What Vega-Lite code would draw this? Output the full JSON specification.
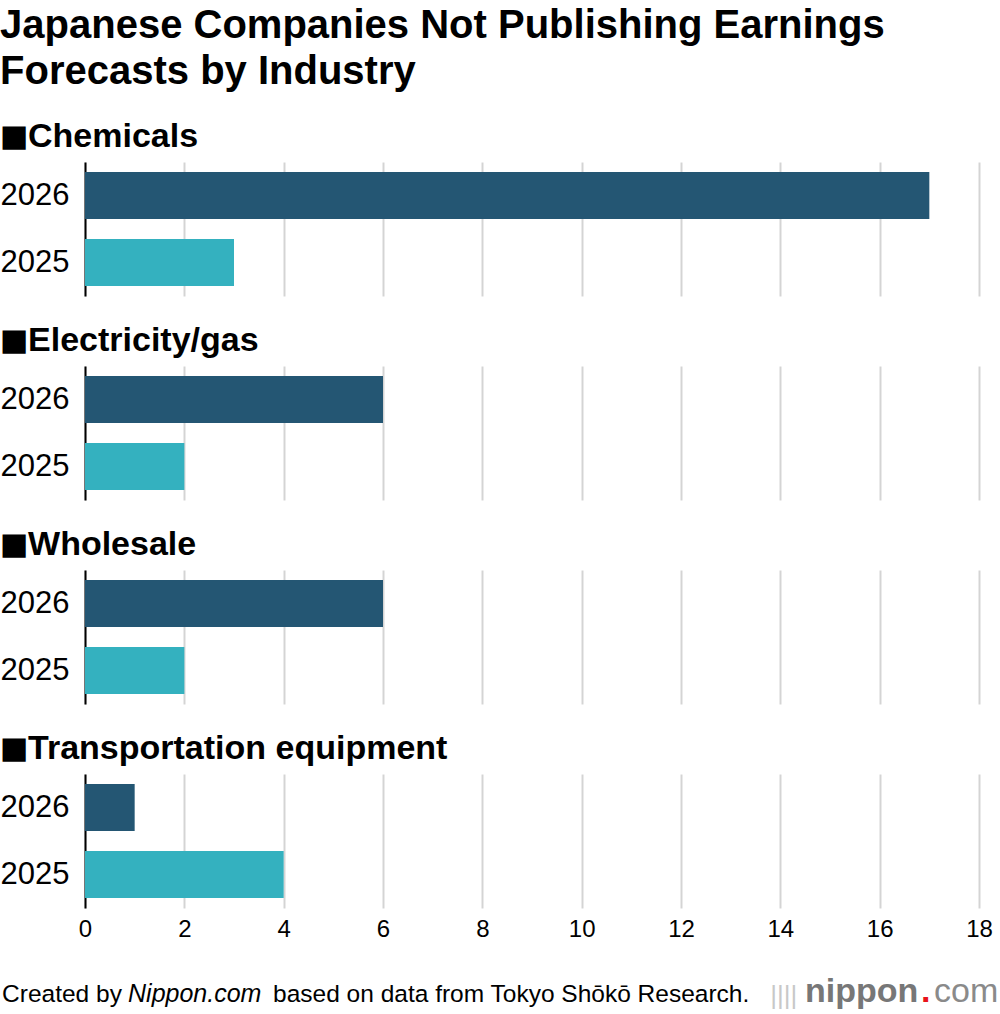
{
  "$schema": "https://vega.github.io/schema/vega-lite/v6.json",
  "background": "white",
  "padding": {"left": 0, "right": 0, "top": 6, "bottom": 0},
  "data": {
    "values": [
      {"industry": "Chemicals", "year": "2026", "companies": 17},
      {"industry": "Chemicals", "year": "2025", "companies": 3},
      {"industry": "Electricity/gas", "year": "2026", "companies": 6},
      {"industry": "Electricity/gas", "year": "2025", "companies": 2},
      {"industry": "Wholesale", "year": "2026", "companies": 6},
      {"industry": "Wholesale", "year": "2025", "companies": 2},
      {"industry": "Transportation equipment", "year": "2026", "companies": 1},
      {"industry": "Transportation equipment", "year": "2025", "companies": 4}
    ]
  },
  "config": {
    "font": "Liberation Sans",
    "view": {"stroke": null},
    "concat": {"spacing": 28},
    "title": {
      "font": "Liberation Sans",
      "fontSize": 34,
      "fontWeight": "bold",
      "color": "#000000",
      "anchor": "start",
      "frame": "bounds",
      "offset": 8
    },
    "axisY": {
      "title": null,
      "ticks": false,
      "domain": true,
      "domainColor": "#000000",
      "domainWidth": 2,
      "labelFont": "Liberation Sans",
      "labelFontSize": 31,
      "labelColor": "#000000",
      "labelPadding": 16,
      "grid": false
    },
    "axisX": {
      "title": null,
      "ticks": false,
      "domain": false,
      "grid": true,
      "gridColor": "#d4d4d4",
      "gridWidth": 2,
      "labelFlush": false,
      "labelFont": "Liberation Sans",
      "labelFontSize": 24,
      "labelColor": "#000000",
      "labelPadding": 9
    }
  },
  "title": {
    "text": "based on data from Tokyo Shōkō Research.",
    "orient": "bottom", "anchor": "start", "frame": "bounds", "baseline": "alphabetic",
    "fontSize": 24.5, "fontWeight": "normal", "color": "#000000",
    "offset": 0, "dy": -7, "dx": 273
  },
  "vconcat": [
    {
      "title": {
        "text": "Nippon.com",
        "orient": "bottom", "anchor": "start", "frame": "bounds", "baseline": "alphabetic",
        "fontSize": 25, "fontWeight": "normal", "fontStyle": "italic", "color": "#000000",
        "offset": 0, "dy": -7, "dx": 128
      },
      "vconcat": [
        {
          "title": {
            "text": "Created by",
            "orient": "bottom", "anchor": "start", "frame": "bounds", "baseline": "alphabetic",
            "fontSize": 24.5, "fontWeight": "normal", "color": "#000000",
            "offset": 0, "dy": -7, "dx": 2
          },
          "vconcat": [
            {
              "title": {
                "text": "com",
                "orient": "bottom", "anchor": "end", "frame": "bounds", "baseline": "alphabetic",
                "fontSize": 34, "fontWeight": "normal", "color": "#8a8a8a",
                "offset": 0, "dy": -7, "dx": 6
              },
              "vconcat": [
                {
                  "title": {
                    "text": "||||",
                    "orient": "bottom", "anchor": "end", "frame": "bounds", "baseline": "alphabetic",
                    "fontSize": 26, "fontWeight": "normal", "color": "#c8c8c8",
                    "offset": 0, "dy": -5, "dx": -195
                  },
                  "vconcat": [
                    {
                      "title": {
                        "text": ".",
                        "orient": "bottom", "anchor": "end", "frame": "bounds", "baseline": "alphabetic",
                        "fontSize": 34, "fontWeight": "bold", "color": "#e8131b",
                        "offset": 0, "dy": -7, "dx": -62
                      },
                      "vconcat": [
                        {
                          "title": {
                            "text": "nippon",
                            "orient": "bottom", "anchor": "end", "frame": "bounds", "baseline": "alphabetic",
                            "fontSize": 34, "fontWeight": "bold", "color": "#777777",
                            "offset": 61, "dx": -74
                          },
                          "vconcat": [
                            {
                              "title": {
                                "text": ["Japanese Companies Not Publishing Earnings", "Forecasts by Industry"],
                                "fontSize": 40,
                                "lineHeight": 46,
                                "offset": 28
                              },
                              "spacing": 28,
                              "vconcat": [
                                {
                                  "title": "◼Chemicals",
                                  "width": 894,
                                  "height": 134,
                                  "transform": [{"filter": "datum.industry === 'Chemicals'"}],
                                  "mark": "bar",
                                  "encoding": {
                                    "y": {"field": "year", "type": "nominal", "sort": ["2026", "2025"],
                                          "scale": {"paddingInner": 0.3, "paddingOuter": 0.15}},
                                    "x": {"field": "companies", "type": "quantitative",
                                          "scale": {"domain": [0, 18], "nice": false},
                                          "axis": {"labels": false, "values": [0, 2, 4, 6, 8, 10, 12, 14, 16, 18]}},
                                    "color": {"field": "year", "type": "nominal",
                                              "scale": {"domain": ["2026", "2025"], "range": ["#245673", "#34b1bf"]},
                                              "legend": null}
                                  }
                                },
                                {
                                  "title": "◼Electricity/gas",
                                  "width": 894,
                                  "height": 134,
                                  "transform": [{"filter": "datum.industry === 'Electricity/gas'"}],
                                  "mark": "bar",
                                  "encoding": {
                                    "y": {"field": "year", "type": "nominal", "sort": ["2026", "2025"],
                                          "scale": {"paddingInner": 0.3, "paddingOuter": 0.15}},
                                    "x": {"field": "companies", "type": "quantitative",
                                          "scale": {"domain": [0, 18], "nice": false},
                                          "axis": {"labels": false, "values": [0, 2, 4, 6, 8, 10, 12, 14, 16, 18]}},
                                    "color": {"field": "year", "type": "nominal",
                                              "scale": {"domain": ["2026", "2025"], "range": ["#245673", "#34b1bf"]},
                                              "legend": null}
                                  }
                                },
                                {
                                  "title": "◼Wholesale",
                                  "width": 894,
                                  "height": 134,
                                  "transform": [{"filter": "datum.industry === 'Wholesale'"}],
                                  "mark": "bar",
                                  "encoding": {
                                    "y": {"field": "year", "type": "nominal", "sort": ["2026", "2025"],
                                          "scale": {"paddingInner": 0.3, "paddingOuter": 0.15}},
                                    "x": {"field": "companies", "type": "quantitative",
                                          "scale": {"domain": [0, 18], "nice": false},
                                          "axis": {"labels": false, "values": [0, 2, 4, 6, 8, 10, 12, 14, 16, 18]}},
                                    "color": {"field": "year", "type": "nominal",
                                              "scale": {"domain": ["2026", "2025"], "range": ["#245673", "#34b1bf"]},
                                              "legend": null}
                                  }
                                },
                                {
                                  "title": "◼Transportation equipment",
                                  "width": 894,
                                  "height": 134,
                                  "transform": [{"filter": "datum.industry === 'Transportation equipment'"}],
                                  "mark": "bar",
                                  "encoding": {
                                    "y": {"field": "year", "type": "nominal", "sort": ["2026", "2025"],
                                          "scale": {"paddingInner": 0.3, "paddingOuter": 0.15}},
                                    "x": {"field": "companies", "type": "quantitative",
                                          "scale": {"domain": [0, 18], "nice": false},
                                          "axis": {"labels": true, "values": [0, 2, 4, 6, 8, 10, 12, 14, 16, 18]}},
                                    "color": {"field": "year", "type": "nominal",
                                              "scale": {"domain": ["2026", "2025"], "range": ["#245673", "#34b1bf"]},
                                              "legend": null}
                                  }
                                }
                              ]
                            }
                          ]
                        }
                      ]
                    }
                  ]
                }
              ]
            }
          ]
        }
      ]
    }
  ]
}
